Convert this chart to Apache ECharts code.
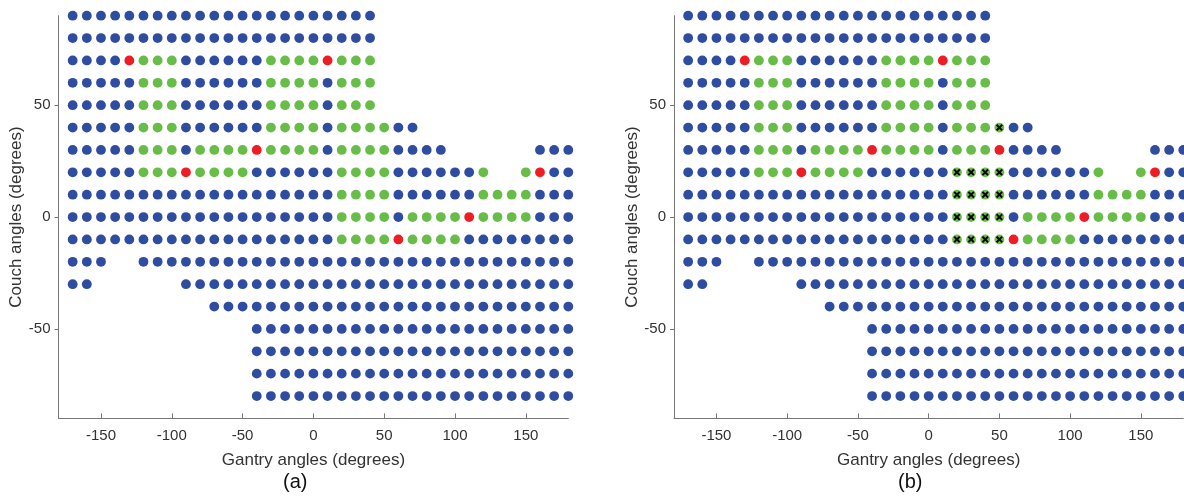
<!DOCTYPE html>
<html>
<head>
<meta charset="utf-8">
<script src="https://cdn.jsdelivr.net/npm/echarts@6/dist/echarts.min.js"></script>
<style>html,body{margin:0;padding:0;background:#fff}#c{width:1184px;height:498px}</style>
</head>
<body>
<div id="c"></div>
<script>
// Gantry angle columns (degrees)
const gantryAngles = [-170,-160,-150,-140,-130,-120,-110,-100,-90,-80,-70,-60,-50,-40,-30,-20,-10,0,10,20,30,40,50,60,70,80,90,100,110,120,130,140,150,160,170,180];
// Couch angle rows (degrees), top to bottom
const couchAngles = [90,80,70,60,50,40,30,20,10,0,-10,-20,-30,-40,-50,-60,-70,-80];
// Tick labels
const gantryTicks = [-150,-100,-50,0,50,100,150];
const couchTicks = [-50,0,50];
// Status per grid cell, groups of 6 columns (B blue, G green, R red, X green with cross, . empty)
const panelA = [
  "BBBBBB BBBBBB BBBBBB BBBB.. ...... ......",
  "BBBBBB BBBBBB BBBBBB BBBB.. ...... ......",
  "BBBBRG GGBBBB BBGGGG RGGG.. ...... ......",
  "BBBBBG GGBBBB BBGGGG BGGG.. ...... ......",
  "BBBBBG GGBBBB BBGGGG BGGG.. ...... ......",
  "BBBBBG GGBBBB BBGGGG BGGGGB B..... ......",
  "BBBBBG GGBGGG GRGGGG BGGGGB BBB... ...BBB",
  "BBBBBG GGRGGG GBBBBB BGGGGB BBBBBG ..GRBB",
  "BBBBBB BBBBBB BBBBBB BGGGGB BBBBBG GGGBBB",
  "BBBBBB BBBBBB BBBBBB BGGGGB GGGGRG GGGBBB",
  "BBBBBB BBBBBB BBBBBB BGGGGR GGGGBB BBBBBB",
  "BBB..B BBBBBB BBBBBB BBBBBB BBBBBB BBBBBB",
  "BB.... ..BBBB BBBBBB BBBBBB BBBBBB BBBBBB",
  "...... ....BB BBBBBB BBBBBB BBBBBB BBBBBB",
  "...... ...... .BBBBB BBBBBB BBBBBB BBBBBB",
  "...... ...... .BBBBB BBBBBB BBBBBB BBBBBB",
  "...... ...... .BBBBB BBBBBB BBBBBB BBBBBB",
  "...... ...... .BBBBB BBBBBB BBBBBB BBBBBB"
];
const panelB = [
  "BBBBBB BBBBBB BBBBBB BBBB.. ...... ......",
  "BBBBBB BBBBBB BBBBBB BBBB.. ...... ......",
  "BBBBRG GGBBBB BBGGGG RGGG.. ...... ......",
  "BBBBBG GGBBBB BBGGGG BGGG.. ...... ......",
  "BBBBBG GGBBBB BBGGGG BGGG.. ...... ......",
  "BBBBBG GGBBBB BBGGGG BGGGXB B..... ......",
  "BBBBBG GGBGGG GRGGGG BGGGRB BBB... ...BBB",
  "BBBBBG GGRGGG GBBBBB BXXXXB BBBBBG ..GRBB",
  "BBBBBB BBBBBB BBBBBB BXXXXB BBBBBG GGGBBB",
  "BBBBBB BBBBBB BBBBBB BXXXXB GGGGRG GGGBBB",
  "BBBBBB BBBBBB BBBBBB BXXXXR GGGGBB BBBBBB",
  "BBB..B BBBBBB BBBBBB BBBBBB BBBBBB BBBBBB",
  "BB.... ..BBBB BBBBBB BBBBBB BBBBBB BBBBBB",
  "...... ....BB BBBBBB BBBBBB BBBBBB BBBBBB",
  "...... ...... .BBBBB BBBBBB BBBBBB BBBBBB",
  "...... ...... .BBBBB BBBBBB BBBBBB BBBBBB",
  "...... ...... .BBBBB BBBBBB BBBBBB BBBBBB",
  "...... ...... .BBBBB BBBBBB BBBBBB BBBBBB"
];

const BLUE = '#2f4da0', GREEN = '#68bd48', RED = '#ee1d25';
const FONT = '"Liberation Sans", Arial, Helvetica, sans-serif';
const CROSS = 'path://M2,0L5,3L8,0L10,2L7,5L10,8L8,10L5,7L2,10L0,8L3,5L0,2Z';

function split(panel) {
  const out = {B: [], G: [], R: [], X: []};
  panel.forEach((row, r) => {
    const s = row.replace(/ /g, '');
    for (let c = 0; c < s.length; c++) {
      const ch = s[c];
      if (ch === '.') continue;
      const p = [gantryAngles[c], couchAngles[r]];
      if (ch === 'X') { out.G.push(p); out.X.push(p); }
      else out[ch].push(p);
    }
  });
  return out;
}
const dA = split(panelA), dB = split(panelB);

function xAx(i) {
  return {
    gridIndex: i, type: 'value', min: -180, max: 180,
    name: 'Gantry angles (degrees)', nameLocation: 'middle', nameGap: 33,
    nameTextStyle: {fontFamily: FONT, fontSize: 17, color: '#333'},
    axisLine: {show: true, onZero: false, lineStyle: {color: '#777', width: 1}},
    axisTick: {show: true, inside: true, length: 5, customValues: gantryTicks, lineStyle: {color: '#777'}},
    axisLabel: {customValues: gantryTicks, fontFamily: FONT, fontSize: 15, color: '#333', margin: 10},
    splitLine: {show: false}
  };
}
function yAx(i) {
  return {
    gridIndex: i, type: 'value', min: -90, max: 90,
    name: 'Couch angles (degrees)', nameLocation: 'middle', nameGap: 31, nameRotate: 90,
    nameTextStyle: {fontFamily: FONT, fontSize: 17, color: '#333'},
    axisLine: {show: true, onZero: false, lineStyle: {color: '#777', width: 1}},
    axisTick: {show: true, inside: false, length: 4, customValues: couchTicks, lineStyle: {color: '#777'}},
    axisLabel: {customValues: couchTicks, fontFamily: FONT, fontSize: 15, color: '#333', margin: 8},
    splitLine: {show: false}
  };
}
function ser(i, data, color, symbol, size, z) {
  return {
    type: 'scatter', xAxisIndex: i, yAxisIndex: i, data: data,
    symbol: symbol, symbolSize: size, z: z, silent: true,
    itemStyle: {color: color, opacity: 1}, clip: false, animation: false
  };
}

const chart = echarts.init(document.getElementById('c'), null, {renderer: 'canvas'});
chart.setOption({
  animation: false,
  backgroundColor: '#fff',
  grid: [
    {left: 58.5, top: 15.7, width: 509.8, height: 402.7, outerBoundsMode: 'none'},
    {left: 674, top: 15.7, width: 509.3, height: 402.7, outerBoundsMode: 'none'}
  ],
  xAxis: [xAx(0), xAx(1)],
  yAxis: [yAx(0), yAx(1)],
  graphic: [
    {type: 'text', left: 283, top: 472, style: {text: '(a)', font: '20px ' + FONT, fill: '#111'}},
    {type: 'text', left: 898, top: 472, style: {text: '(b)', font: '20px ' + FONT, fill: '#111'}}
  ],
  series: [
    ser(0, dA.B, BLUE, 'circle', 9.8, 2),
    ser(0, dA.G, GREEN, 'circle', 9.8, 2),
    ser(0, dA.R, RED, 'circle', 9.8, 2),
    ser(1, dB.B, BLUE, 'circle', 9.8, 2),
    ser(1, dB.G, GREEN, 'circle', 9.8, 2),
    ser(1, dB.R, RED, 'circle', 9.8, 2),
    ser(1, dB.X, '#000', CROSS, 7, 3)
  ]
});
</script>
</body>
</html>
